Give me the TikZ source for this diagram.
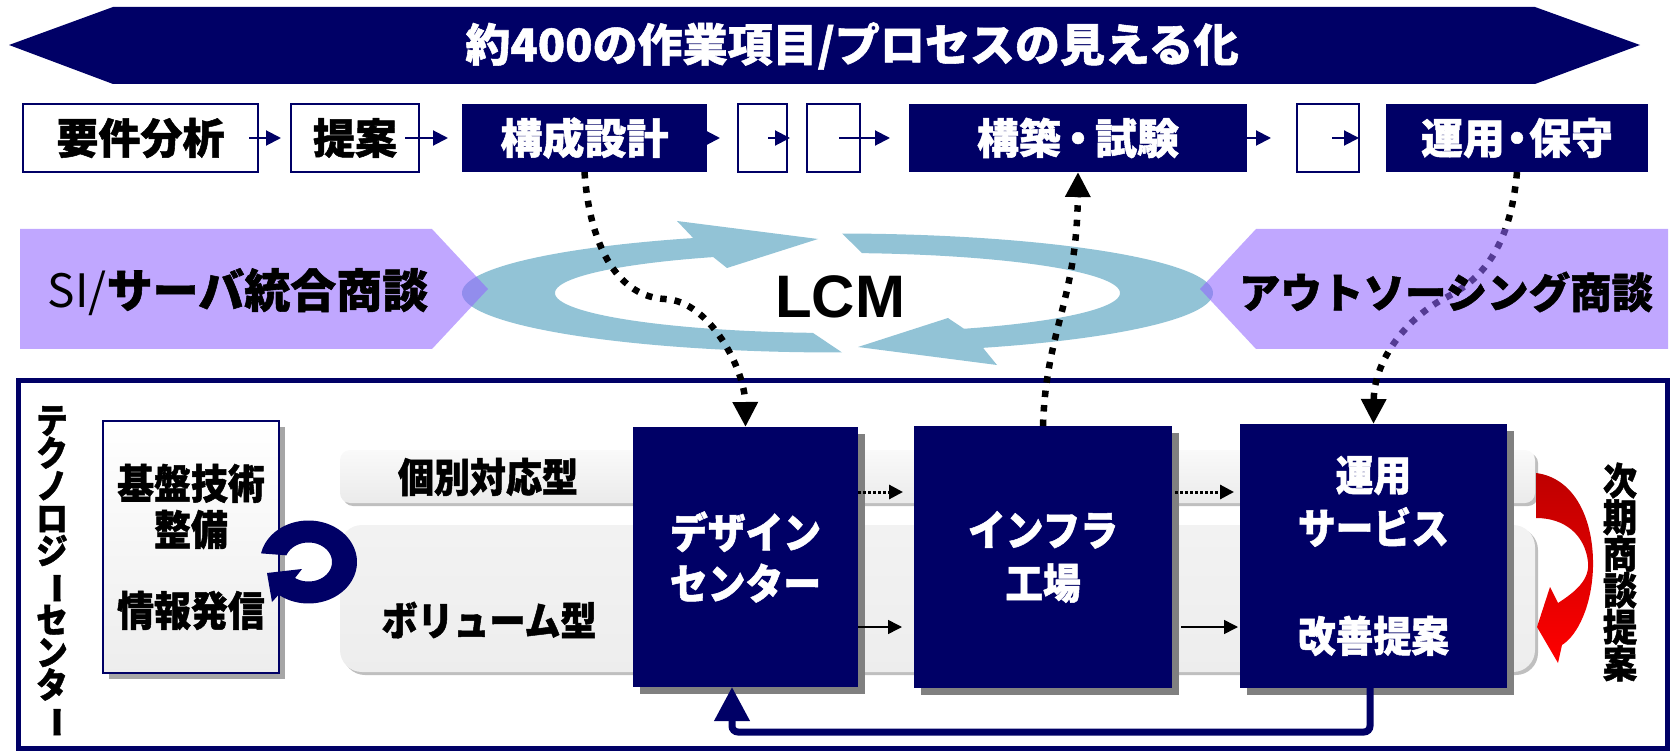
\documentclass[tikz,border=0pt]{standalone}
\usepackage{fontspec}
\usepackage{graphicx}
\usetikzlibrary{arrows.meta,shadows}
\newfontfamily\jp{Noto Sans CJK JP}[BoldFeatures={FakeBold=1.2}]
\newfontfamily\jpc{Noto Sans CJK JP}[FakeStretch=0.9,BoldFeatures={FakeBold=1.2}]
\newfontfamily\lat{Liberation Sans}
\definecolor{navy}{RGB}{0,0,102}
\definecolor{ringblue}{RGB}{146,195,214}
\definecolor{purp}{RGB}{146,103,255}
\definecolor{shadowgray}{RGB}{128,128,128}
\definecolor{redtop}{RGB}{190,0,0}
\begin{document}
\begin{tikzpicture}[x=1pt,y=-1pt,
  wbox/.style={draw=navy, line width=2.5pt, fill=white, inner sep=0pt, outer sep=0pt, minimum height=68pt, font=\jp\bfseries\fontsize{42}{48}\selectfont},
  nbox/.style={fill=navy, text=white, inner sep=0pt, outer sep=0pt, minimum height=68pt, font=\jp\bfseries\fontsize{42}{48}\selectfont},
  bigbox/.style={fill=navy, text=white, inner sep=0pt, outer sep=0pt, align=center, drop shadow={shadow xshift=7pt, shadow yshift=-7pt, fill=shadowgray, opacity=1}},
  navyarr/.style={navy, line width=2pt, -{Triangle[length=15pt,width=15pt]}},
  dotarr/.style={black, line width=3pt, dash pattern=on 3pt off 2pt, -{Triangle[length=14pt,width=14pt]}},
  solarr/.style={black, line width=1.5pt, -{Triangle[length=14pt,width=14pt]}},
  heavydot/.style={black, line width=6.5pt, dash pattern=on 6.5pt off 8pt, -{Triangle[length=25pt,width=24pt]}},
  fbarrow/.style={navy, line width=7pt, rounded corners=6pt, -{Triangle[length=34pt,width=34pt]}},
  lbl/.style={inner sep=0pt, outer sep=0pt, align=center}
]
\useasboundingbox (0,0) rectangle (1671,751);

% ---- banner
\fill[navy] (9,45) -- (113,7) -- (1535,7) -- (1640,45) -- (1535,84) -- (113,84) -- cycle;
\node[lbl, text=white, font=\jp\bfseries\fontsize{45}{50}\selectfont] (ttl) at (852,46) {約400の作業項目/プロセスの見える化};

% ---- process row
\node[wbox, minimum width=235pt] (b1) at (140.5,138) {要件分析};
\node[wbox, minimum width=128pt] (b2) at (355,138) {提案};
\node[nbox, minimum width=245pt] (b3) at (584.5,138) {構成設計};
\node[wbox, minimum width=49pt] (s1) at (762.5,138) {};
\node[wbox, minimum width=53pt] (s2) at (833.5,138) {};
\node[nbox, minimum width=338pt] (b4) at (1078,138) {構築\kern-4pt・\kern-4pt試験};
\node[wbox, minimum width=62pt] (s3) at (1328,138) {};
\node[nbox, minimum width=262pt] (b5) at (1517,138) {運用\kern-9pt・\kern-9pt保守};

\draw[navyarr] ([xshift=-9pt]b1.east) -- ([xshift=-10pt]b2.west);
\draw[navyarr] ([xshift=-14pt]b2.east) -- ([xshift=-14pt]b3.west);
\draw[navyarr, -{Triangle[length=13pt,width=13pt]}] (b3.east) -- ([xshift=-18pt]s1.west);
\draw[navyarr] ([xshift=-19pt]s1.east) -- ([xshift=3pt]s1.east);
\draw[navyarr] ([xshift=-21pt]s2.east) -- ([xshift=-19pt]b4.west);
\draw[navyarr] (b4.east) -- ([xshift=-26pt]s3.west);
\draw[navyarr] ([xshift=-27pt]s3.east) -- (s3.east);

% ---- LCM ring
\fill[ringblue] plot[domain=89.3:247.4, samples=90] ({837.5+375.5*cos(\x)},{293+59.5*sin(\x)})
  -- (677,221) -- (818,239) -- (727,268)
  -- plot[domain=243.9:95, samples=90] ({837.5+282.5*cos(\x)},{293+40*sin(\x)}) -- cycle;
\fill[ringblue] plot[domain=270.7:427.2, samples=90] ({837.5+375.5*cos(\x)},{293+59.5*sin(\x)})
  -- (997,365) -- (858,347) -- (948,318)
  -- plot[domain=423.4:275, samples=90] ({837.5+282.5*cos(\x)},{293+40*sin(\x)}) -- cycle;

% ---- lower frame
\draw[navy, line width=5pt] (18.5,380) rectangle (1667.5,748.5);

% bars
\fill[gray!50, rounded corners=10pt] (343,453) rectangle (1538,506);
\shade[top color=gray!4, bottom color=gray!16, rounded corners=10pt] (340,450) rectangle (1535,503);
\fill[gray!50, rounded corners=22pt] (343,528) rectangle (1538,675);
\shade[top color=gray!10, middle color=white, bottom color=gray!14, rounded corners=22pt] (340,525) rectangle (1535,672);
\node[lbl, font=\jpc\bfseries\fontsize{40}{44}\selectfont] (kobetsu) at (488,477) {個別対応型};
\node[lbl, font=\jpc\bfseries\fontsize{40}{44}\selectfont] (volume) at (489,620) {ボリューム型};

% kiban box
\node[draw=navy, line width=2pt, top color=white, bottom color=gray!14, minimum width=176pt, minimum height=252pt,
  inner sep=0pt, outer sep=0pt, align=center,
  drop shadow={shadow xshift=6pt,shadow yshift=-6pt,fill=gray!70,opacity=1},
  font=\jpc\bfseries\fontsize{41}{46}\selectfont] (kb) at (191,547) {基盤技術\\整備\\[35pt]情報発信};

% circular arrow
\fill[navy] plot[domain=192:488, samples=80] ({308.5+48.5*cos(\x)},{562+41.5*sin(\x)})
  -- (272,602) -- (267,573) -- (302,569)
  -- plot[domain=485:200, samples=80] ({308.5+23.5*cos(\x)},{562+19.5*sin(\x)}) -- cycle;

% navy boxes
\node[bigbox, minimum width=225pt, minimum height=260pt, font=\jpc\bfseries\fontsize{42}{51}\selectfont] (dc) at (745.5,557) {デザイン\\センター};
\node[bigbox, minimum width=258pt, minimum height=262pt, font=\jpc\bfseries\fontsize{42}{53}\selectfont] (inf) at (1043,557) {インフラ\\工場};
\node[bigbox, minimum width=267pt, minimum height=264pt, font=\jpc\bfseries\fontsize{42}{53}\selectfont] (op) at (1373.5,556) {運用\\サービス\\[55pt]改善提案};

\coordinate (yd) at (0,492);
\coordinate (ys) at (0,627);
\path (dc.east |- yd) coordinate (d1a) (inf.west |- yd) coordinate (d1b)
      (inf.east |- yd) coordinate (d2a) (op.west |- yd) coordinate (d2b)
      (dc.east |- ys) coordinate (e1a) (inf.west |- ys) coordinate (e1b)
      (inf.east |- ys) coordinate (e2a) (op.west |- ys) coordinate (e2b);
\draw[dotarr] (d1a) -- ([xshift=-11pt]d1b);
\draw[dotarr] ([xshift=3pt]d2a) -- ([xshift=-6pt]d2b);
\draw[solarr] (e1a) -- ([xshift=-12pt]e1b);
\draw[solarr] ([xshift=9pt]e2a) -- ([xshift=-2pt]e2b);

% feedback arrow
\coordinate (fbc) at (732,732);
\draw[fbarrow] ([xshift=-3.5pt]op.south) |- (fbc) -- (dc.south -| fbc);

% red curved arrow
\shade[top color=redtop, bottom color=red]
  (1536,473) .. controls (1575,478) and (1594,520) .. (1593,567)
  .. controls (1592,605) and (1578,635) .. (1562,645)
  -- (1558,663) -- (1537,627) -- (1550,587) -- (1558,603)
  .. controls (1575,592) and (1590,580) .. (1588,562)
  .. controls (1585,535) and (1565,518) .. (1536,518) -- cycle;

% vertical texts
\node[lbl, font=\jpc\bfseries\fontsize{35}{32.6}\selectfont] (tech) at (52,572)
  {テ\\ク\\ノ\\ロ\\ジ\\\rotatebox[origin=c]{-90}{ー}\\セ\\ン\\タ\\\rotatebox[origin=c]{-90}{ー}};
\node[lbl, font=\jpc\bfseries\fontsize{38}{36.6}\selectfont] (nextp) at (1620,572)
  {次\\期\\商\\談\\提\\案};

% ---- dotted connectors
\coordinate (m1) at (665,299);
\draw[heavydot] (b3.south) .. controls (590,250) and (620,297) .. (m1) .. controls (710,301) and (745,370) .. (dc.north);
\draw[heavydot] (inf.north) .. controls (1046,330) and (1077,300) .. (b4.south);
\coordinate (m3) at (1447,297);
\draw[heavydot] (b5.south) .. controls (1510,250) and (1480,280) .. (m3) .. controls (1407,317) and (1374,360) .. (op.north);

% ---- purple pentagons
\fill[purp, opacity=0.58] (20,229) -- (432,229) -- (488,289) -- (432,349) -- (20,349) -- cycle;
\fill[purp, opacity=0.58] (1668,229) -- (1256,229) -- (1200,289) -- (1256,349) -- (1668,349) -- cycle;

\node[lbl, font=\jp\fontsize{46}{50}\selectfont] (si) at (238,292) {SI/{\bfseries サーバ統合商談}};
\node[lbl, font=\jp\bfseries\fontsize{41.5}{46}\selectfont] (outs) at (1446,292) {アウトソーシング商談};
\node[lbl, anchor=base, font=\lat\bfseries\fontsize{60}{60}\selectfont] (lcm) at (840,318) {LCM};
\end{tikzpicture}
\end{document}
